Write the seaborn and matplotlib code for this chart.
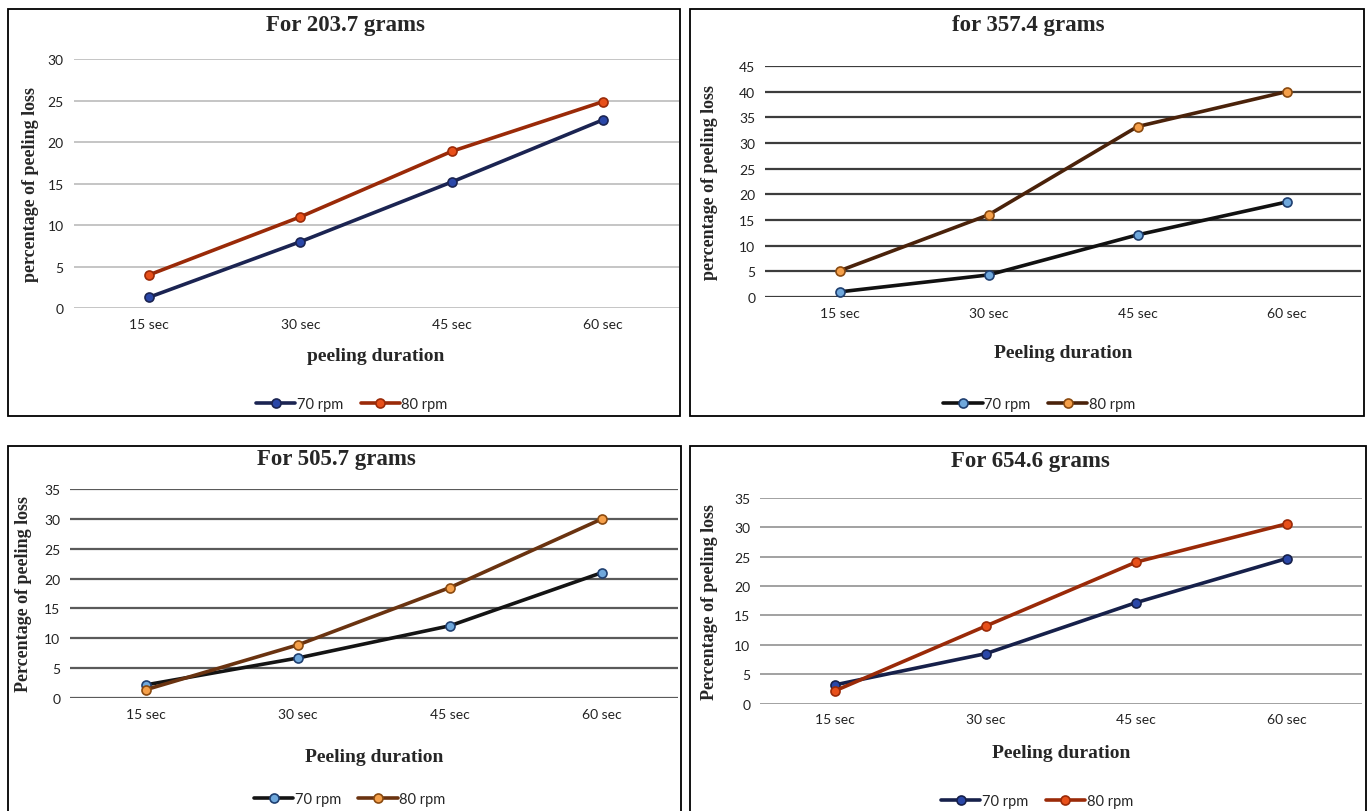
import matplotlib
matplotlib.use("Agg")
import matplotlib.pyplot as plt
from matplotlib.patches import Rectangle
import numpy as np
import pandas as pd
import seaborn as sns

# data
durations = ["15 sec", "30 sec", "45 sec", "60 sec"]

loss_203_70 = [1.3, 8.0, 15.2, 22.7]
loss_203_80 = [4.0, 11.0, 18.9, 24.9]
loss_357_70 = [1.0, 4.3, 12.1, 18.5]
loss_357_80 = [5.1, 16.0, 33.2, 40.0]
loss_505_70 = [2.2, 6.7, 12.1, 21.0]
loss_505_80 = [1.4, 8.9, 18.5, 30.0]
loss_654_70 = [3.2, 8.5, 17.2, 24.7]
loss_654_80 = [2.2, 13.2, 24.1, 30.6]

titles = ["For 203.7 grams", "for 357.4 grams", "For 505.7 grams", "For 654.6 grams"]
ylabels = ["percentage of peeling loss", "percentage of peeling loss",
           "Percentage of peeling loss", "Percentage of peeling loss"]
xlabels = ["peeling duration", "Peeling duration", "Peeling duration", "Peeling duration"]
ymaxes = [30, 45, 35, 35]

sns.set_style("white")
plt.rcParams['font.family'] = ['Liberation Serif', 'DejaVu Sans']

W, H = 1370, 812
fig = plt.figure(figsize=(W / 100, H / 100), dpi=100)


def px_axes(left, right, top, bottom):
    # pixel box -> figure fraction
    return [left / W, 1 - bottom / H, (right - left) / W, (bottom - top) / H]


def frame(x0, y0, x1, y1):
    fig.patches.append(Rectangle((x0 / W, 1 - y1 / H), (x1 - x0) / W, (y1 - y0) / H,
                                 transform=fig.transFigure, fill=False,
                                 edgecolor="black", lw=1.3))


# (line colour, marker face, marker edge) per series
styles = [
    dict(grid="#c0c0c0", c70=("#1b2452", "#2a47a8", "#1b2452"), c80=("#9a2a08", "#e8501a", "#9a2a08")),
    dict(grid="#3c3c3c", c70=("#111111", "#6fa8dc", "#1f3f70"), c80=("#4a220a", "#f5a04a", "#8a4a10")),
    dict(grid="#5a5a5a", c70=("#141414", "#6fa8dc", "#1f3f70"), c80=("#6a3310", "#f5a04a", "#8a4a10")),
    dict(grid="#9a9a9a", c70=("#16204a", "#2a47a8", "#16204a"), c80=("#9a2a08", "#e8501a", "#9a2a08")),
]
series = [(loss_203_70, loss_203_80), (loss_357_70, loss_357_80),
          (loss_505_70, loss_505_80), (loss_654_70, loss_654_80)]

# pixel layout: axes box, frame box, title, ylabel x, xlabel y, legend y
layout = [
    dict(ax=(73.5, 678.5, 60.4, 309), fr=(8, 10, 680, 417), title=(345, 25), ylx=31, xly=357, lgy=405),
    dict(ax=(765, 1361, 67, 298), fr=(690, 10, 1364, 417), title=(1028, 25), ylx=709, xly=353, lgy=405),
    dict(ax=(70, 678, 490, 699), fr=(8, 447, 681, 820), title=(336, 460), ylx=24, xly=758, lgy=800),
    dict(ax=(760, 1362, 499, 704.6), fr=(690, 447, 1366, 820), title=(1030, 462), ylx=709, xly=754, lgy=802),
]

for i in range(4):
    L = layout[i]
    st = styles[i]
    frame(*L["fr"])
    left, right, top, bottom = L["ax"]
    ax = fig.add_axes(px_axes(left, right, top, bottom))
    s70, s80 = series[i]
    for vals, (lc, fc, ec), lab in [(s70, st["c70"], "70 rpm"), (s80, st["c80"], "80 rpm")]:
        df = pd.DataFrame({"duration": durations, "loss": vals})
        sns.lineplot(data=df, x="duration", y="loss", ax=ax, color=lc, lw=2.6,
                     marker="o", markersize=6.5, markerfacecolor=fc,
                     markeredgecolor=ec, markeredgewidth=1.2, label=lab, sort=False)
    ax.set_xlim(-0.5, 3.5)
    ax.set_ylim(0, ymaxes[i])
    ax.set_yticks(np.arange(0, ymaxes[i] + 1, 5))
    ax.grid(axis="y", color=st["grid"], lw=1.6 if i in (1, 2) else 1.3)
    ax.grid(axis="x", visible=False)
    ax.set_axisbelow(True)
    for sp in ax.spines.values():
        sp.set_visible(False)
    ax.tick_params(axis="both", length=0, labelsize=10, pad=7)
    for t in ax.get_xticklabels() + ax.get_yticklabels():
        t.set_fontfamily(["Lato", "DejaVu Sans"])
        t.set_color("#222222")

    w = right - left
    h = bottom - top
    ax.set_ylabel(ylabels[i], fontsize=13, fontweight="bold", va="center")
    ax.yaxis.set_label_coords((L["ylx"] - left) / w, 0.5)
    ax.set_xlabel(xlabels[i], fontsize=14, fontweight="bold")
    ax.xaxis.set_label_coords(0.5, -(L["xly"] - bottom) / h)
    ax.xaxis.label.set_va("center")

    fig.text(L["title"][0] / W, 1 - L["title"][1] / H, titles[i], fontsize=16.5,
             fontweight="bold", ha="center", va="center")

    handles, labels = ax.get_legend_handles_labels()
    ax.legend(handles, labels, loc="center", ncol=2, frameon=False,
              bbox_to_anchor=(0.46, -(L["lgy"] - bottom) / h),
              handlelength=2.7, handletextpad=0.1, columnspacing=1.2,
              prop={"family": ["Lato", "DejaVu Sans"], "size": 10.5})

fig.savefig("out.png", dpi=100)
